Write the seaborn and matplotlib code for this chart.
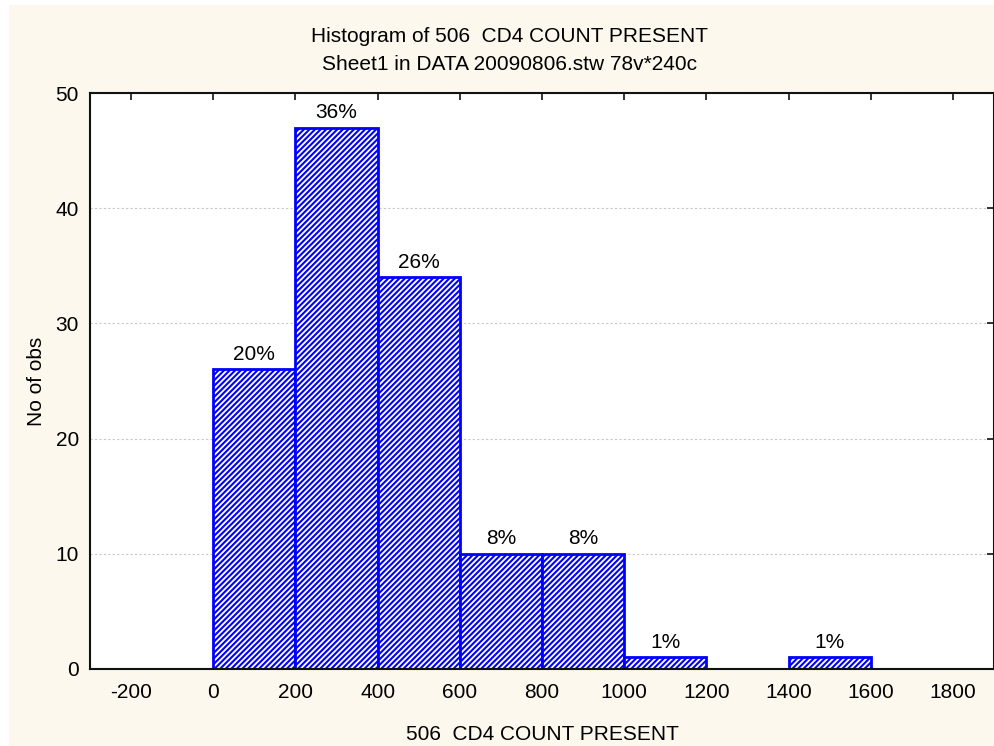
import numpy as np
import pandas as pd
import seaborn as sns
import matplotlib.pyplot as plt
from matplotlib.patches import Rectangle

# bins of CD4 count and number of obs in each
bin_edges = [0, 200, 400, 600, 800, 1000, 1200, 1400, 1600]
counts = [26, 47, 34, 10, 10, 1, 0, 1]
pct_labels = ['20%', '36%', '26%', '8%', '8%', '1%', '', '1%']
x_ticks = [-200, 0, 200, 400, 600, 800, 1000, 1200, 1400, 1600, 1800]
y_ticks = [0, 10, 20, 30, 40, 50]

centers = [(a + b) / 2 for a, b in zip(bin_edges[:-1], bin_edges[1:])]
df = pd.DataFrame({'cd4': centers, 'n': counts})

sns.set_style('white')
plt.rcParams['font.family'] = ['Liberation Sans', 'DejaVu Sans']
plt.rcParams['hatch.linewidth'] = 1.5
plt.rcParams['axes.unicode_minus'] = False
plt.rcParams['text.color'] = 'black'
plt.rcParams['axes.labelcolor'] = 'black'
plt.rcParams['xtick.color'] = 'black'
plt.rcParams['ytick.color'] = 'black'

fs = 15

fig = plt.figure(figsize=(9.94, 7.46), dpi=100)
fig.patch.set_facecolor('white')
# cream panel behind everything
fig.patches.append(Rectangle((9 / 994, 0), 1, 1 - 5 / 746, transform=fig.transFigure,
                             facecolor='#fdf8ee', edgecolor='none', zorder=-10))

ax = fig.add_axes([90 / 994, 1 - 669 / 746, 1 - 90 / 994, (669 - 93) / 746])
ax.set_facecolor('white')

sns.histplot(data=df, x='cd4', weights='n', bins=bin_edges, ax=ax,
             color='white', edgecolor='#0000ff', linewidth=2, alpha=1)
for p in ax.patches:
    p.set_hatch('//////')
    p.set_facecolor('white')
    p.set_edgecolor('#0000ff')

for c, n, lab in zip(centers, counts, pct_labels):
    if lab:
        ax.text(c, n + 0.5, lab, ha='center', va='bottom', fontsize=fs)

ax.set_xlim(-300, 1900)
ax.set_ylim(0, 50)
ax.set_xticks(x_ticks)
ax.set_yticks(y_ticks)
ax.tick_params(axis='both', direction='in', length=5, width=1.2, labelsize=fs,
               top=True, right=True, pad=10, color='#111111')
ax.tick_params(axis='y', pad=8)
ax.yaxis.grid(True, linestyle=(0, (2, 2)), color='#c8c8c8', linewidth=0.8)
ax.set_axisbelow(True)
for s in ax.spines.values():
    s.set_linewidth(1.5)
    s.set_color('#111111')

ax.set_xlabel('506  CD4 COUNT PRESENT', fontsize=fs, labelpad=17)
ax.set_ylabel('No of obs', fontsize=fs, labelpad=7)

fig.text(0.513, 1 - 36 / 746, 'Histogram of 506  CD4 COUNT PRESENT', ha='center', va='center', fontsize=fs)
fig.text(0.513, 1 - 64 / 746, 'Sheet1 in DATA 20090806.stw 78v*240c', ha='center', va='center', fontsize=fs)

fig.savefig('out.png', dpi=100, facecolor=fig.get_facecolor())
